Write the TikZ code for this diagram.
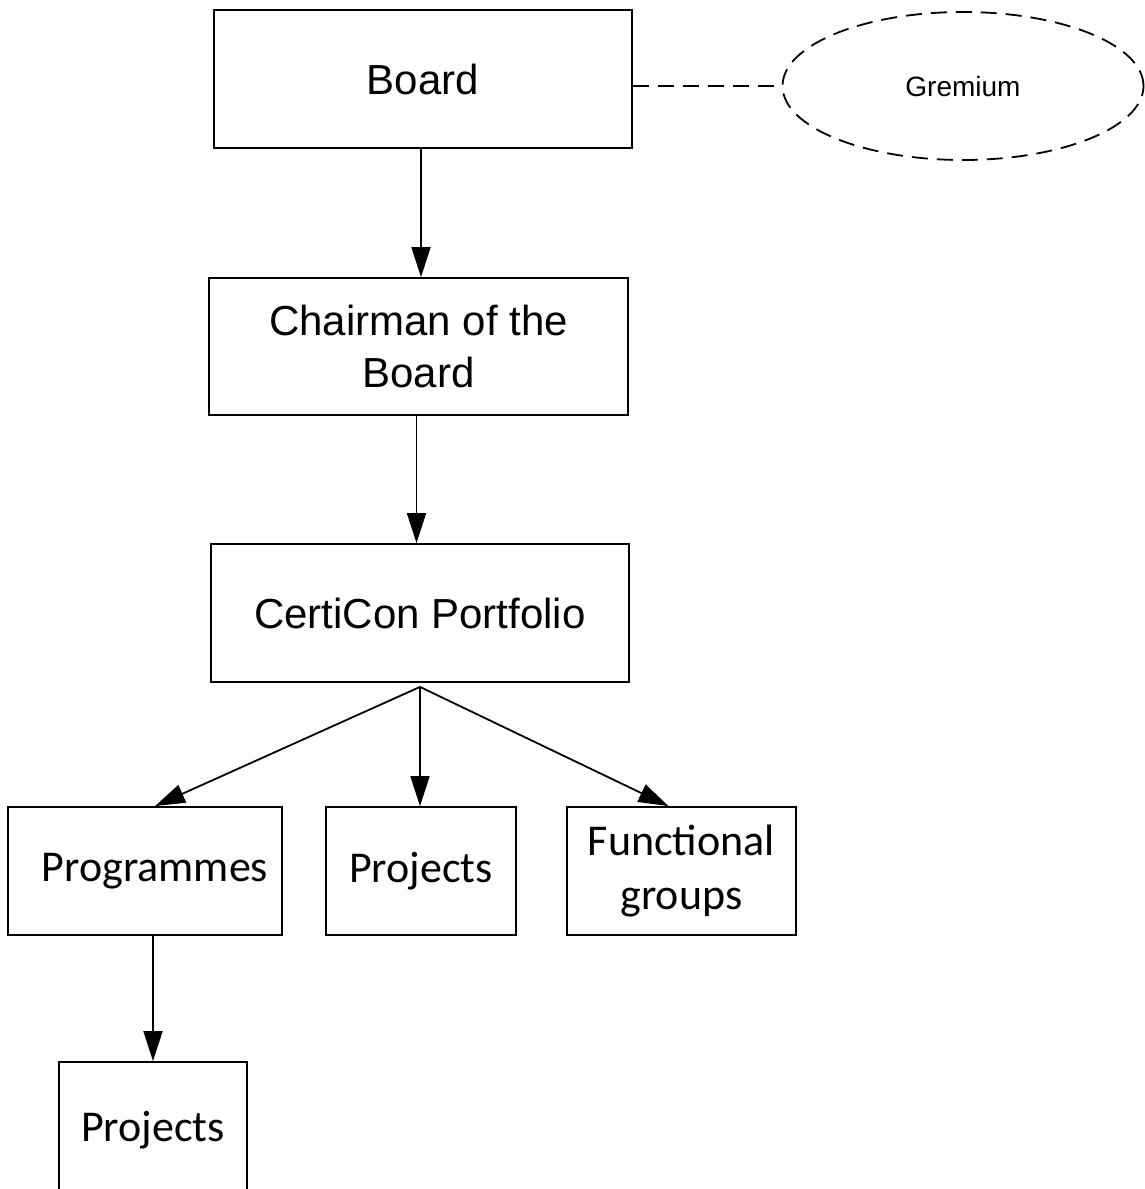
\documentclass[tikz,border=0pt]{standalone}
\usepackage{xcolor}
\usepackage{fontspec}
\setmainfont{Liberation Sans}
\newfontfamily\calfont{Carlito}
\usepackage{tikz}
\usetikzlibrary{shapes.geometric}
\usetikzlibrary{arrows.meta}

\begin{document}
\begin{tikzpicture}[x=1pt,y=-1pt,
		box/.style={draw, line width=1.8pt, inner sep=0pt, align=center},
		bigtext/.style={font=\fontsize{42}{52}\selectfont},
		caltext/.style={font=\calfont\fontsize{44}{54}\selectfont},
		conn/.style={line width=1.8pt, -{Triangle[length=30pt,width=19pt]}}]
		\useasboundingbox (0,0) rectangle (1145,1189);
		
		%Shape: Rectangle [id:board] 
		\node (board) at (423,79) [box, bigtext, minimum width=418pt, minimum height=138pt] {Board};
		%Shape: Ellipse [id:gremium] 
		\node (gremium) at (963,86) [draw, ellipse, line width=1.8pt, dash pattern=on 16pt off 9pt, inner sep=0pt, minimum width=361pt, minimum height=148pt, font=\fontsize{28}{34}\selectfont] {Gremium};
		%Shape: Rectangle [id:chairman] 
		\node (chairman) at (418.5,346.5) [box, bigtext, minimum width=419pt, minimum height=137pt] {Chairman of the\\Board};
		%Shape: Rectangle [id:portfolio] 
		\node (portfolio) at (420,613) [box, bigtext, minimum width=418pt, minimum height=138pt] {CertiCon Portfolio};
		
		%Shape: Rectangle [id:programmes] 
		\node (programmes) at (145,871) [box, caltext, minimum width=274pt, minimum height=128pt] {\hspace{20pt}Programmes};
		%Shape: Rectangle [id:projects] 
		\node (projects) at (421,871) [box, caltext, minimum width=190pt, minimum height=128pt] {Projects};
		%Shape: Rectangle [id:functional] 
		\node (functional) at (681.5,871) [box, caltext, minimum width=229pt, minimum height=128pt] {Functional\\groups};
		%Shape: Rectangle [id:subprojects] 
		\node (subprojects) at (153,1130) [box, caltext, minimum width=188pt, minimum height=136pt] {Projects};
		
		%Straight Lines [id:split] 
		\coordinate (split) at ([yshift=-4pt]portfolio.south);
		
		%Dashed Line [id:board-gremium] 
		\draw [line width=1.8pt, dash pattern=on 16pt off 9pt] (board.east |- gremium.west) -- (gremium.west);
		%Arrows
		\draw [conn] ([xshift=-2pt]board.south) -- ([xshift=-2pt]board.south |- chairman.north);
		\draw [conn] ([xshift=-2pt]chairman.south) -- ([xshift=-2pt]chairman.south |- portfolio.north);
		\draw [conn] (split) -- ([xshift=10pt]programmes.north);
		\draw [conn] (split) -- (split |- projects.north);
		\draw [conn] (split) -- ([xshift=-13pt]functional.north);
		\draw [conn] (subprojects.north |- programmes.south) -- (subprojects.north);
		
	\end{tikzpicture}
\end{document}
